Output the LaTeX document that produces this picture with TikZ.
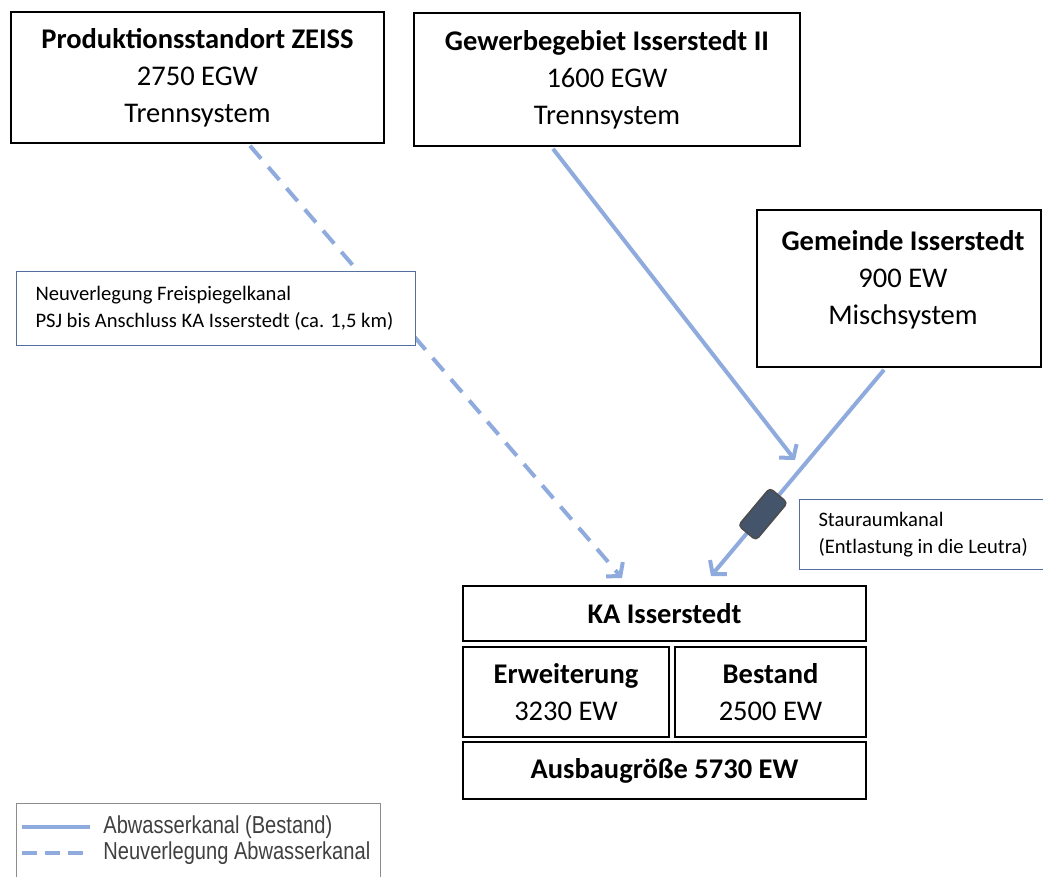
\documentclass[tikz,border=0pt]{standalone}
\usepackage{fontspec}
\setmainfont{Carlito}
\newfontfamily\legendfont[FakeStretch=0.82]{Liberation Sans}
\usetikzlibrary{arrows.meta}

\definecolor{kanalblau}{RGB}{143,170,220}
\definecolor{rahmenblau}{RGB}{84,110,160}
\definecolor{speicher}{RGB}{68,84,106}
\definecolor{legendgrau}{RGB}{64,64,64}

\tikzset{every picture/.style={line width=0.75pt}}
\tikzset{
  gebiet/.style={draw,line width=2.6pt,align=center,inner sep=0pt,
    font=\fontsize{28.5}{37}\selectfont},
  kanal/.style={draw=kanalblau,line width=4pt,
    -{Straight Barb[length=9pt,width=22pt,line width=4pt]}},
  neukanal/.style={kanal,dash pattern=on 17pt off 11pt},
  hinweis/.style={draw=rahmenblau,line width=1pt,fill=white,align=left,
    inner xsep=19pt,font=\fontsize{20.6}{26.5}\selectfont,anchor=north west},
  speicherkanal/.style={draw=black!70,fill=speicher,line width=1.5pt,
    rounded corners=4pt,minimum width=49pt,minimum height=23pt,inner sep=0pt}
}

\begin{document}
\begin{tikzpicture}[x=1pt,y=-1pt]
	\useasboundingbox (0,0) rectangle (1043,877);
	% Einzugsgebiete
	\node [gebiet,minimum width=373pt,minimum height=131pt] (zeiss) at (197.5,77.5)
		{\textbf{Produktionsstandort ZEISS}\\2750 EGW\\Trennsystem};
	\node [gebiet,minimum width=386pt,minimum height=133pt] (gewerbe) at (607,79.5)
		{\textbf{Gewerbegebiet Isserstedt II}\\1600 EGW\\Trennsystem};
	\node [gebiet,minimum width=284pt,minimum height=157pt] (gemeinde) at (899,288.5) {};
	\node [gebiet,draw=none] (gemeindetext) at ([xshift=4pt,yshift=9pt]gemeinde.center)
		{\textbf{Gemeinde Isserstedt}\\900 EW\\Mischsystem};
	% Klaeranlage
	\node [gebiet,minimum width=403pt,minimum height=55pt] (ka) at (664.5,613.5)
		{\textbf{KA Isserstedt}};
	\node [gebiet,minimum width=206pt,minimum height=90pt] (erw) at (566,692)
		{\textbf{Erweiterung}\\3230 EW};
	\node [gebiet,minimum width=191pt,minimum height=90pt] (bestand) at (770.5,692)
		{\textbf{Bestand}\\2500 EW};
	\node [gebiet,minimum width=403pt,minimum height=57pt] (ausbau) at (664.5,770.5)
		{\textbf{Ausbaugröße 5730 EW}};

	% Kanaele
	\path (zeiss.south) ++(52.5,1.5) coordinate (zeissab);
	\path (gewerbe.south) ++(-54,1.5) coordinate (gewerbeab);
	\path (gemeinde.south) ++(-15,1.5) coordinate (gemeindeab);
	\coordinate (kaein1) at (622,578);
	\coordinate (kaein2) at (711,576);
	\coordinate (zusammen) at (795,460);
	\draw [neukanal] (zeissab) -- (kaein1);
	\draw [kanal] (gewerbeab) -- (zusammen);
	\draw [kanal] (gemeindeab) -- (kaein2)
		node [speicherkanal,pos=0.7,sloped] (stauraum) {};

	% Hinweise
	\node [hinweis,minimum height=74pt] (freispiegel) at (16,271)
		{Neuverlegung Freispiegelkanal\\\makebox[361pt][l]{PSJ bis Anschluss KA Isserstedt (ca. 1,5 km)}};
	\node [hinweis,minimum height=70pt] (entlastung) at (799,499)
		{Stauraumkanal\\\makebox[240pt][l]{(Entlastung in die Leutra)}};

	% Legende
	\node [draw=black!45,line width=1pt,anchor=north west,minimum width=364pt,
		minimum height=90pt] (legende) at (16,803) {};
	\coordinate (leg1a) at (22,827); \coordinate (leg1b) at (90,827);
	\coordinate (leg2a) at (22,853); \coordinate (leg2b) at (90,853);
	\draw [draw=kanalblau,line width=4pt] (leg1a) -- (leg1b);
	\draw [draw=kanalblau,line width=4pt,dash pattern=on 15pt off 8pt] (leg2a) -- (leg2b);
	\node [anchor=west,inner sep=0pt,text=legendgrau,font=\legendfont\fontsize{24.5}{26}\selectfont]
		(leg1) at (103,827) {Abwasserkanal (Bestand)};
	\node [anchor=west,inner sep=0pt,text=legendgrau,font=\legendfont\fontsize{24.5}{26}\selectfont]
		(leg2) at (103,853) {Neuverlegung Abwasserkanal};
\end{tikzpicture}
\end{document}
